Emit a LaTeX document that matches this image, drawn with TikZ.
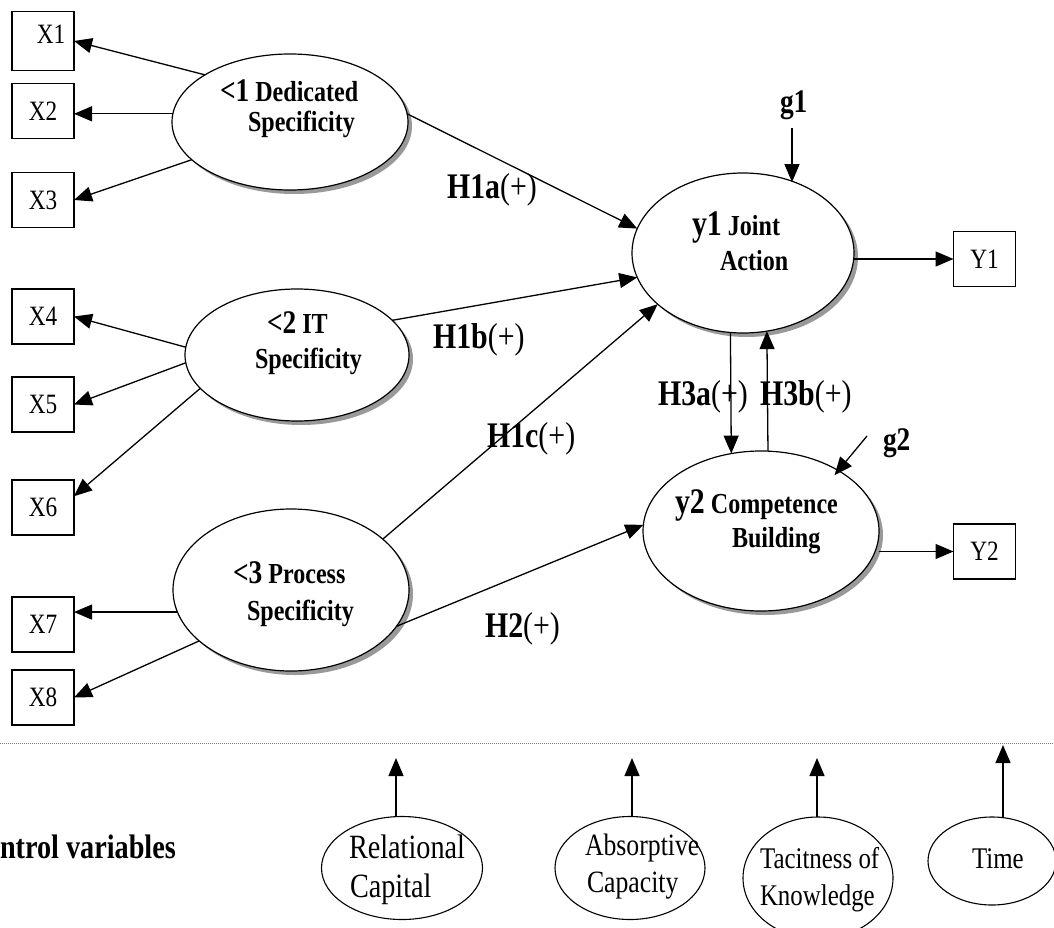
\documentclass[tikz,border=0pt]{standalone}
\usepackage{fontspec}
\setmainfont{Liberation Serif}[FakeStretch=0.83]
\usetikzlibrary{arrows.meta,shapes.geometric,shadows}
\begin{document}
\begin{tikzpicture}[x=1pt,y=-1pt,
  every node/.style={inner sep=0pt, outer sep=0pt},
  lat/.style={ellipse, draw, line width=1.2pt, fill=white,
    drop shadow={shadow xshift=4pt, shadow yshift=-4pt, fill=black!40, opacity=1}},
  ctl/.style={ellipse, draw, line width=1.1pt, fill=white},
  obs/.style={rectangle, draw, line width=1.1pt, minimum width=62pt, minimum height=55pt,
    font=\fontsize{28}{30}\selectfont},
  arr/.style={line width=1.3pt, -{Triangle[length=18pt,width=15pt]}},
  lf/.style={anchor=base west, font=\fontsize{29}{30}\selectfont\bfseries},
  hf/.style={anchor=base west, font=\fontsize{36}{38}\selectfont\bfseries},
  cf/.style={anchor=base west, font=\fontsize{30}{32}\selectfont},
]
\useasboundingbox (0,0) rectangle (1054,928);

% observed indicators
\node[obs, minimum height=59pt] (X1) at (43,41) {};
\node[font=\fontsize{28}{30}\selectfont] (X1t) at (51,34) {X1};
\node[obs] (X2) at (43,111) {X2};
\node[obs] (X3) at (43,200) {X3};
\node[obs] (X4) at (43,316.5) {X4};
\node[obs] (X5) at (43,404.5) {X5};
\node[obs] (X6) at (43,507.5) {X6};
\node[obs] (X7) at (43,624.5) {X7};
\node[obs] (X8) at (43,697.5) {X8};
\node[obs] (Y1) at (984.5,259) {Y1};
\node[obs] (Y2) at (984.5,551.5) {Y2};

% latent variables
\node[lat, minimum width=236pt, minimum height=136pt] (xi1) at (290,122) {};
\node[lat, minimum width=224pt, minimum height=132pt] (xi2) at (297,355) {};
\node[lat, minimum width=236pt, minimum height=162pt] (xi3) at (291,590) {};
\node[lat, minimum width=222pt, minimum height=160pt] (eta1) at (743,253) {};
\node[lat, minimum width=236pt, minimum height=160pt] (eta2) at (761,531) {};

% latent labels
\node[lf] (xi1a) at (220,102) {{\fontsize{33}{30}\selectfont <1} Dedicated};
\node[lf] (xi1b) at (248,132) {Specificity};
\node[lf] (xi2a) at (267,333) {{\fontsize{33}{30}\selectfont <2} IT};
\node[lf] (xi2b) at (255,368) {Specificity};
\node[lf] (xi3a) at (233,583) {{\fontsize{33}{30}\selectfont <3} Process};
\node[lf] (xi3b) at (247,620) {Specificity};
\node[lf] (eta1a) at (692,235) {{\fontsize{36}{30}\selectfont y1} Joint};
\node[lf] (eta1b) at (720,270) {Action};
\node[lf] (eta2a) at (675,513) {{\fontsize{36}{30}\selectfont y2} Competence};
\node[lf] (eta2b) at (732,547) {Building};
\node[lf, font=\fontsize{33}{30}\selectfont\bfseries] (g1) at (780,113) {g1};
\node[lf, font=\fontsize{33}{30}\selectfont\bfseries] (g2) at (883,450) {g2};

% hypothesis labels
\node[hf] (h1a) at (447,198) {H1a\textmd{(+)}};
\node[hf] (h1b) at (433,348) {H1b\textmd{(+)}};
\node[hf] (h1c) at (487,447) {H1c\textmd{(+)}};
\node[hf] (h3a) at (658,405) {H3a\textmd{(+)}};
\node[hf] (h3b) at (760,405) {H3b\textmd{(+)}};
\node[hf] (h2) at (485,637) {H2\textmd{(+)}};

% measurement arrows
\draw[arr] (xi1.151) -- (X1.east);
\draw[arr] (xi1.176) -- (xi1.176 -| X2.east);
\draw[arr] (xi1.201.5) -- (X3.east);
\draw[arr] (xi2.176.5) -- (X4.east);
\draw[arr] (xi2.184.1) -- (X5.east);
\draw[arr] (xi2.199.4) -- (X6.20);
\draw[arr] (xi3.191.8) -- (xi3.191.8 -| X7.east);
\draw[arr] (xi3.209) -- (X8.east);
\draw[arr] (Y1.west -| eta1.east) -- (Y1.west);
\draw[arr] (Y2.west -| eta2.east) -- (Y2.west);

% structural arrows
\draw[arr] (xi1.4.7) -- (eta1.167.7);
\draw[arr] (xi2.20.4) -- (eta1.193.1);
\draw[arr] (xi3.29) -- (eta1.211.3);
\draw[arr] (xi3.341.9) -- (eta2.177.1);
\draw[arr] (eta1.261.4) -- (eta2.111.2);
\draw[arr] (eta2.85.7) -- (eta1.287.1);

% disturbances
\coordinate (g1a) at (792,128);
\coordinate (g2a) at (867,436);
\draw[arr] (g1a) -- (g1a |- eta1.54.2);
\draw[arr, shorten >=-6pt] (g2a) -- (eta2.38.2);

% separator
\draw[black!55, line width=1pt, dash pattern=on 1pt off 1pt] (0,743) -- (1054,743);

% control variables
\node[anchor=base west, font=\fontsize{34}{36}\selectfont\bfseries] (ctrl) at (0,858) {ntrol variables};
\node[ctl, minimum width=161pt, minimum height=103pt] (rc) at (402,868) {};
\node[ctl, minimum width=150pt, minimum height=103pt] (ac) at (630,868) {};
\node[ctl, minimum width=150pt, minimum height=122pt] (tk) at (818,878) {};
\node[ctl, minimum width=128pt, minimum height=88pt] (tm) at (992,861) {};
\node[cf, font=\fontsize{34}{36}\selectfont] (rct1) at (349,858) {Relational};
\node[cf, font=\fontsize{34}{36}\selectfont] (rct2) at (350,897) {Capital};
\node[cf, font=\fontsize{31}{32}\selectfont] (act1) at (585,855) {Absorptive};
\node[cf, font=\fontsize{31}{32}\selectfont] (act2) at (587,892) {Capacity};
\node[cf] (tkt1) at (760,868) {Tacitness of};
\node[cf] (tkt2) at (760,905) {Knowledge};
\node[cf] (tmt) at (972,868) {Time};
\coordinate (rcT) at (396,758);
\coordinate (acT) at (632,758);
\coordinate (tkT) at (817,758);
\coordinate (tmT) at (1003,745);
\draw[arr] (rcT |- rc.north) -- (rcT);
\draw[arr] (acT |- ac.north) -- (acT);
\draw[arr] (tkT |- tk.north) -- (tkT);
\draw[arr] (tmT |- tm.north) -- (tmT);
\end{tikzpicture}
\end{document}
